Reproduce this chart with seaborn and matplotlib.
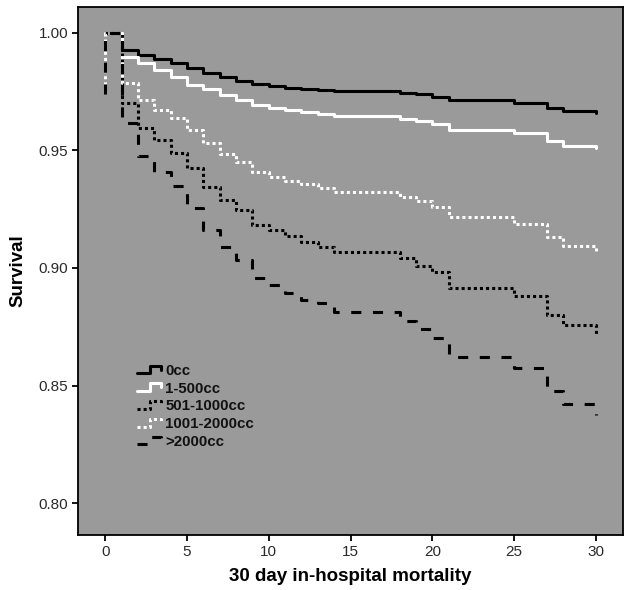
import matplotlib

matplotlib.use("Agg")
import matplotlib.pyplot as plt
import numpy as np
import pandas as pd
import seaborn as sns
from matplotlib.legend_handler import HandlerLine2D
from matplotlib.lines import Line2D

# ---------------------------------------------------------------
# Data
# ---------------------------------------------------------------
groups = ["0cc", "1-500cc", "501-1000cc", "1001-2000cc", ">2000cc"]

days = [0, 1, 2, 3, 4, 5, 6, 7, 8, 9, 10, 11, 12, 13, 14, 18, 19, 20, 21, 25, 27, 28, 30]

surv_0cc = [1.000, 0.9924, 0.9905, 0.9886, 0.9869, 0.9848, 0.9828, 0.9813, 0.9796,
            0.9783, 0.9771, 0.9765, 0.9761, 0.9755, 0.9752, 0.9745, 0.9738, 0.9727,
            0.9713, 0.9702, 0.9681, 0.9667, 0.9660]
surv_1_500 = [1.000, 0.9895, 0.9869, 0.9841, 0.9810, 0.9777, 0.9760, 0.9733, 0.9713,
              0.9692, 0.9678, 0.9671, 0.9664, 0.9656, 0.9644, 0.9633, 0.9623, 0.9610,
              0.9586, 0.9572, 0.9541, 0.9519, 0.9508]
surv_501_1000 = [1.000, 0.9699, 0.9593, 0.9544, 0.9488, 0.9423, 0.9345, 0.9289, 0.9246,
                 0.9183, 0.9161, 0.9136, 0.9112, 0.9090, 0.9068, 0.9041, 0.9009, 0.8982,
                 0.8917, 0.8881, 0.8800, 0.8758, 0.8720]
surv_1001_2000 = [1.000, 0.9786, 0.9713, 0.9671, 0.9636, 0.9586, 0.9530, 0.9484, 0.9451,
                  0.9409, 0.9388, 0.9369, 0.9355, 0.9340, 0.9323, 0.9303, 0.9285, 0.9260,
                  0.9217, 0.9187, 0.9130, 0.9093, 0.9072]
surv_2000 = [1.000, 0.9614, 0.9476, 0.9409, 0.9348, 0.9254, 0.9161, 0.9090, 0.9034,
             0.8956, 0.8928, 0.8893, 0.8864, 0.8850, 0.8813, 0.8775, 0.8741, 0.8703,
             0.8623, 0.8576, 0.8479, 0.8423, 0.8376]

# two groups show a short drop at day 0 in the original output
day0_low = {"1001-2000cc": 0.975, ">2000cc": 0.974}

curves = [surv_0cc, surv_1_500, surv_501_1000, surv_1001_2000, surv_2000]

# ---------------------------------------------------------------
# Styles
# ---------------------------------------------------------------
colors = {"0cc": "black", "1-500cc": "white", "501-1000cc": "black",
          "1001-2000cc": "white", ">2000cc": "black"}
dash_map = {"0cc": "", "1-500cc": "", "501-1000cc": (1, 1),
            "1001-2000cc": (1, 1), ">2000cc": (3.3, 3.8)}
LW = 2.2

rows = []
for name, vals in zip(groups, curves):
    d, v = list(days), list(vals)
    if name in day0_low:
        d = [0] + d
        v = [day0_low[name]] + v
    rows += [(x, y, name) for x, y in zip(d, v)]
df = pd.DataFrame(rows, columns=["day", "survival", "group"])


class StepHandler(HandlerLine2D):
    """Little step-shaped legend key, like the SPSS output."""

    def create_artists(self, legend, orig_handle, xdescent, ydescent,
                       width, height, fontsize, trans):
        xs = np.array([0.0, 0.5, 0.5, 0.95, 0.95]) * width - xdescent
        ys = np.array([0.15, 0.15, 0.9, 0.9, 0.5]) * height - ydescent
        line = Line2D(xs, ys)
        self.update_prop(line, orig_handle, legend)
        line.set_transform(trans)
        return [line]


# ---------------------------------------------------------------
# Plot
# ---------------------------------------------------------------
sns.set_style("ticks")
plt.rcParams["font.family"] = ["Liberation Sans", "DejaVu Sans"]

fig = plt.figure(figsize=(6.32, 5.90), dpi=100)
ax = fig.add_axes([0.1234, 0.0932, 0.8624, 0.8948])
ax.set_facecolor("#9a9a9a")

sns.lineplot(data=df, x="day", y="survival", hue="group", style="group",
             hue_order=groups, style_order=groups, palette=colors, dashes=dash_map,
             estimator=None, sort=False, drawstyle="steps-post",
             linewidth=LW, legend=False, ax=ax)

ax.set_xlim(-1.66, 31.66)
ax.set_ylim(0.7866, 1.0108)
ax.set_xticks(range(0, 31, 5))
ax.set_yticks([0.80, 0.85, 0.90, 0.95, 1.00])
ax.set_yticklabels([f"{t:.2f}" for t in [0.80, 0.85, 0.90, 0.95, 1.00]])
ax.tick_params(axis="both", direction="out", length=4, width=1.3,
               color="black", labelsize=11, labelcolor="#2a2a2a", pad=3)
for sp in ax.spines.values():
    sp.set_color("black")
    sp.set_linewidth(1.3)

ax.set_xlabel("30 day in-hospital mortality", fontsize=13.5, fontweight="bold",
              color="black", labelpad=7)
ax.set_ylabel("Survival", fontsize=13.5, fontweight="bold", color="black", labelpad=9)

handles = []
for name in groups:
    ls = "-" if dash_map[name] == "" else (0, dash_map[name])
    handles.append(Line2D([], [], color=colors[name], linestyle=ls, linewidth=LW))

leg = ax.legend(handles, groups, loc="upper left", bbox_to_anchor=(0.108, 0.324),
                frameon=False, borderpad=0, borderaxespad=0, handlelength=1.7,
                handletextpad=0.2, labelspacing=0.25,
                handler_map={Line2D: StepHandler()},
                prop={"weight": "bold", "size": 10.8})
for txt in leg.get_texts():
    txt.set_color("#111111")

fig.savefig("out.png", dpi=100, facecolor="white")
